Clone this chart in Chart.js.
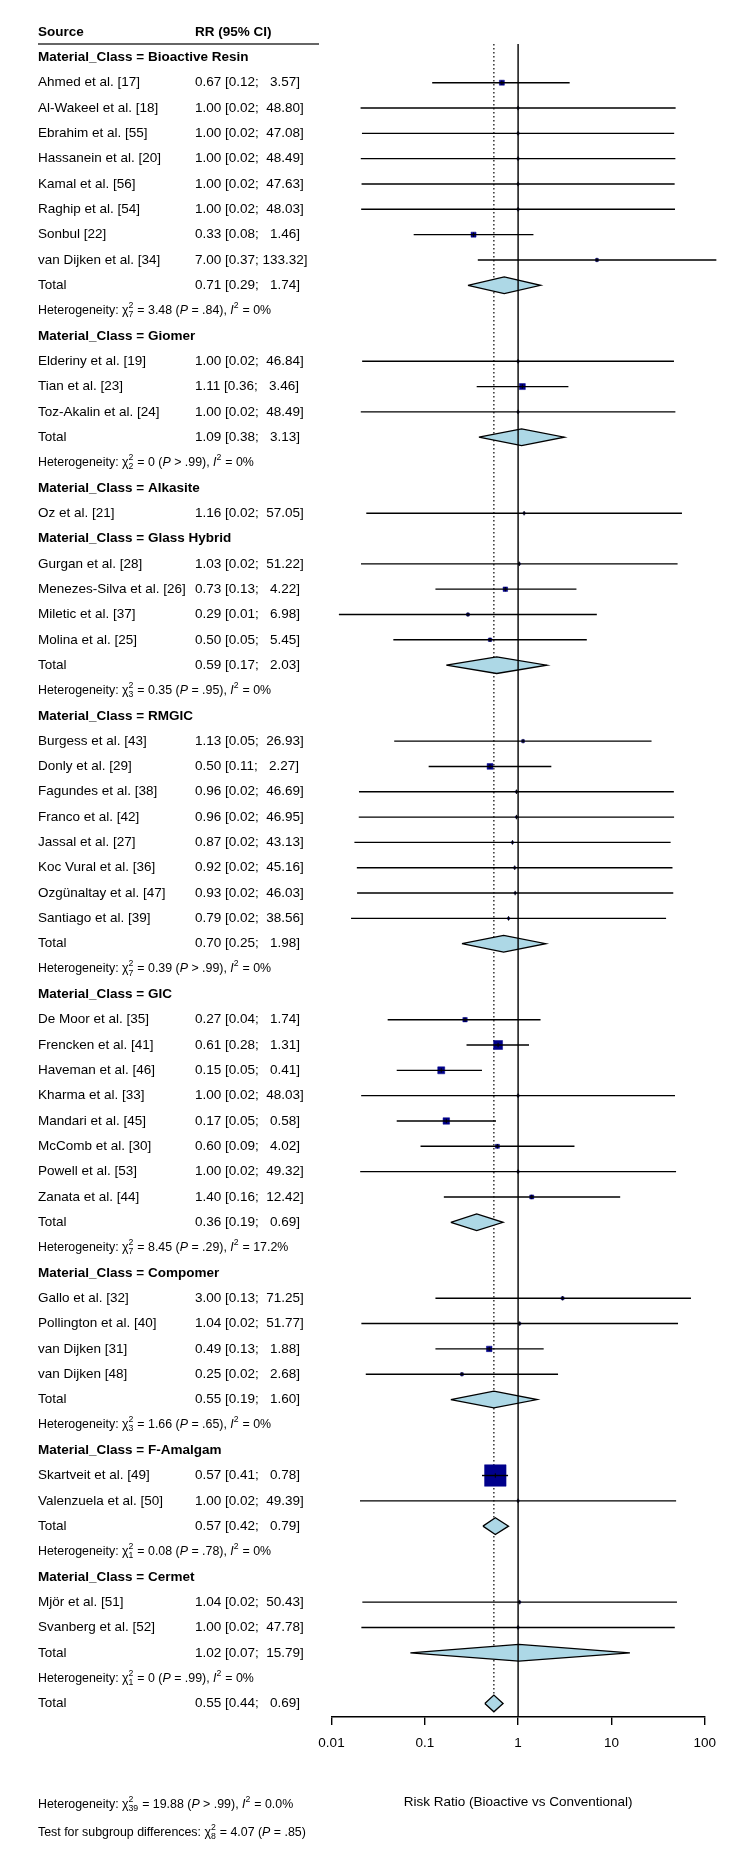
<!DOCTYPE html>
<html><head><meta charset="utf-8">
<script src="https://cdn.jsdelivr.net/npm/chart.js@4.4.1/dist/chart.umd.min.js"></script>
<style>html,body{margin:0;padding:0;background:#fff;}canvas{display:block;}</style>
</head><body>
<canvas id="c" width="750" height="1871" style="width:750px;height:1871px"></canvas>
<script>
// ---------------- DATA ----------------
const groupNames = ["Bioactive Resin","Giomer","Alkasite","Glass Hybrid","RMGIC","GIC","Compomer","F-Amalgam","Cermet"];
const studyNames = [
  "Ahmed et al. [17]","Al-Wakeel et al. [18]","Ebrahim et al. [55]","Hassanein et al. [20]","Kamal et al. [56]","Raghip et al. [54]","Sonbul [22]","van Dijken et al. [34]",
  "Elderiny et al. [19]","Tian et al. [23]","Toz-Akalin et al. [24]",
  "Oz et al. [21]",
  "Gurgan et al. [28]","Menezes-Silva et al. [26]","Miletic et al. [37]","Molina et al. [25]",
  "Burgess et al. [43]","Donly et al. [29]","Fagundes et al. [38]","Franco et al. [42]","Jassal et al. [27]","Koc Vural et al. [36]","Ozgünaltay et al. [47]","Santiago et al. [39]",
  "De Moor et al. [35]","Frencken et al. [41]","Haveman et al. [46]","Kharma et al. [33]","Mandari et al. [45]","McComb et al. [30]","Powell et al. [53]","Zanata et al. [44]",
  "Gallo et al. [32]","Pollington et al. [40]","van Dijken [31]","van Dijken [48]",
  "Skartveit et al. [49]","Valenzuela et al. [50]",
  "Mjör et al. [51]","Svanberg et al. [52]"
];
const studyGroup = [0,0,0,0,0,0,0,0, 1,1,1, 2, 3,3,3,3, 4,4,4,4,4,4,4,4, 5,5,5,5,5,5,5,5, 6,6,6,6, 7,7, 8,8];
const studyRR = [0.67,1.00,1.00,1.00,1.00,1.00,0.333,7.00, 1.00,1.11,1.00, 1.16, 1.03,0.73,0.29,0.50, 1.13,0.50,0.96,0.96,0.87,0.92,0.93,0.79, 0.27,0.61,0.15,1.00,0.17,0.60,1.00,1.40, 3.00,1.04,0.49,0.25, 0.57,1.00, 1.04,1.00];
const studyLower = [0.12,0.0205,0.0212,0.0206,0.0210,0.0208,0.076,0.37, 0.0213,0.36,0.0206, 0.0236, 0.0207,0.13,0.012,0.046, 0.047,0.11,0.0197,0.0196,0.0176,0.0187,0.0188,0.0162, 0.04,0.28,0.05,0.0208,0.05,0.09,0.0203,0.16, 0.13,0.0209,0.13,0.0233, 0.41,0.0202, 0.0214,0.0209];
const studyUpper = [3.57,48.80,47.08,48.49,47.63,48.03,1.46,133.32, 46.84,3.46,48.49, 57.05, 51.22,4.22,6.98,5.45, 26.93,2.27,46.69,46.95,43.13,45.16,46.03,38.56, 1.74,1.31,0.41,48.03,0.58,4.02,49.32,12.42, 71.25,51.77,1.88,2.68, 0.78,49.39, 50.43,47.78];
const studyWeight = [3.0,0.5,0.5,0.5,0.5,0.5,3.0,1.0, 0.5,4.3,0.5, 0.5, 0.5,2.4,1.0,1.4, 1.0,4.0,0.5,0.5,0.5,0.5,0.5,0.5, 2.3,9.6,5.8,0.5,5.0,1.9,0.5,1.9, 1.0,0.6,3.6,1.0, 55,0.5, 0.5,0.5];
const groupRR    = [0.71,1.09,null,0.59,0.70,0.36,0.55,0.57,1.02];
const groupLower = [0.29,0.38,null,0.17,0.25,0.19,0.19,0.42,0.07];
const groupUpper = [1.74,3.13,null,2.03,1.98,0.69,1.60,0.79,15.79];
const groupHetDf = ["7","2",null,"3","7","7","3","1","1"];
const groupHetQ  = ["3.48","0",null,"0.35","0.39","8.45","1.66","0.08","0"];
const groupHetP  = ["= .84","> .99",null,"= .95","> .99","= .29","= .65","= .78","= .99"];
const groupHetI2 = ["0%","0%",null,"0%","0%","17.2%","0%","0%","0%"];
const overallRR = 0.55, overallLower = 0.44, overallUpper = 0.69;
const overallHet = {df:"39", q:"19.88", p:"> .99", i2:"0.0%"};
const subgroupTest = {df:"8", q:"4.07", p:"= .85"};
const tickValues = [0.01,0.1,1,10,100];
const tickLabels = ["0.01","0.1","1","10","100"];
const axisTitle = "Risk Ratio (Bioactive vs Conventional)";

// ---------------- LAYOUT / ROWS ----------------
const rows = [];
let r = 0;
groupNames.forEach((g, gi) => {
  rows.push({type:'header', row:r++, gi});
  studyNames.forEach((s, si) => { if (studyGroup[si] === gi) rows.push({type:'study', row:r++, si}); });
  if (groupRR[gi] !== null) { rows.push({type:'total', row:r++, gi}); rows.push({type:'het', row:r++, gi}); }
});
const overallRow = r++;
const Y_MIN = -0.528, Y_MAX = Y_MIN + 1673.2/25.327;
const DH = 0.33;
const FONT = '"Liberation Sans", Arial, Helvetica, sans-serif';

function fmtCI(e, lo, hi) {
  return e.toFixed(2) + ' [' + lo.toFixed(2) + ';' + hi.toFixed(2).padStart(7, ' ') + ']';
}

const datasets = [];
// reference line at 1 (top)
datasets.push({type:'line', data:[{x:1,y:Y_MIN},{x:1,y:Y_MAX}], borderColor:'#000', borderWidth:1.4, pointRadius:0, order:0, clip:false});
// CI lines
rows.filter(o => o.type === 'study').forEach(o => {
  datasets.push({type:'line', data:[{x:studyLower[o.si],y:o.row},{x:studyUpper[o.si],y:o.row}],
    borderColor:'#000', borderWidth:1.4, pointRadius:0, order:1, clip:false});
});
// center ticks
datasets.push({type:'scatter', data: rows.filter(o => o.type==='study').map(o => ({x:studyRR[o.si], y:o.row})),
  pointStyle:'line', rotation:90, pointRadius:2.2, borderColor:'#000', borderWidth:1, order:1});
// diamonds
const diamonds = [];
rows.filter(o => o.type === 'total').forEach(o => diamonds.push([groupRR[o.gi], groupLower[o.gi], groupUpper[o.gi], o.row]));
diamonds.push([overallRR, overallLower, overallUpper, overallRow]);
diamonds.forEach(([e, lo, hi, rw]) => {
  datasets.push({type:'line', data:[{x:lo,y:rw},{x:e,y:rw-DH},{x:hi,y:rw},{x:e,y:rw+DH},{x:lo,y:rw}],
    borderColor:'#000', borderWidth:1.3, backgroundColor:'#ADD8E6', fill:'shape', tension:0, pointRadius:0, order:2, clip:false});
});
// squares
const studyRows = rows.filter(o => o.type==='study');
datasets.push({type:'scatter', data: studyRows.map(o => ({x:studyRR[o.si], y:o.row})),
  pointStyle:'rect', pointRadius: studyRows.map(o => 2.9*Math.sqrt(studyWeight[o.si])/1.4142),
  backgroundColor:'#00008B', borderColor:'#00008B', borderWidth:0.5, order:3});
// dotted overall line
datasets.push({type:'line', data:[{x:overallRR,y:Y_MIN},{x:overallRR,y:overallRow-DH}], borderColor:'#000', borderWidth:1.2,
  borderDash:[1.5,2.5], pointRadius:0, order:4, clip:false});

function rich(ctx, x, y, parts, size) {
  const base = size + 'px ' + FONT, ital = 'italic ' + size + 'px ' + FONT, small = (size*0.7).toFixed(1) + 'px ' + FONT;
  for (const p of parts) {
    if (p.sup !== undefined || p.sub !== undefined) {
      ctx.font = small;
      let w = 0;
      if (p.sup) { ctx.fillText(p.sup, x, y - size*0.4); w = Math.max(w, ctx.measureText(p.sup).width); }
      if (p.sub) { ctx.fillText(p.sub, x, y + size*0.33); w = Math.max(w, ctx.measureText(p.sub).width); }
      x += w + 0.5;
    } else {
      ctx.font = p.it ? ital : base;
      ctx.fillText(p.t, x, y);
      x += ctx.measureText(p.t).width;
    }
  }
}
function hetParts(df, q, p, i2) {
  return [{t:'Heterogeneity: '},{t:'χ'},{sup:'2',sub:df},{t:' = '+q+' ('},{t:'P',it:1},{t:' '+p+'), '},{t:'I',it:1},{sup:'2'},{t:' = '+i2}];
}

const textPlugin = {
  id: 'forestText',
  afterDraw(chart) {
    const ctx = chart.ctx, ys = chart.scales.y;
    const XN = 38, XC = 195, FS = 13.5, HS = 12.4;
    ctx.save();
    ctx.fillStyle = '#000'; ctx.textBaseline = 'middle'; ctx.textAlign = 'left';
    const normal = FS + 'px ' + FONT, bold = 'bold ' + FS + 'px ' + FONT;
    let y = ys.getPixelForValue(-1);
    ctx.font = bold; ctx.fillText('Source', XN, y); ctx.fillText('RR (95% CI)', XC, y);
    ctx.strokeStyle = '#333'; ctx.lineWidth = 1.5;
    ctx.beginPath(); ctx.moveTo(XN, chart.chartArea.top); ctx.lineTo(319, chart.chartArea.top); ctx.stroke();
    rows.forEach(o => {
      const yy = ys.getPixelForValue(o.row);
      if (o.type === 'header') { ctx.font = bold; ctx.fillText('Material_Class = ' + groupNames[o.gi], XN, yy); }
      else if (o.type === 'study') { ctx.font = normal; ctx.fillText(studyNames[o.si], XN, yy); ctx.fillText(fmtCI(studyRR[o.si], studyLower[o.si], studyUpper[o.si]), XC, yy); }
      else if (o.type === 'total') { ctx.font = normal; ctx.fillText('Total', XN, yy); ctx.fillText(fmtCI(groupRR[o.gi], groupLower[o.gi], groupUpper[o.gi]), XC, yy); }
      else if (o.type === 'het') { rich(ctx, XN, yy, hetParts(groupHetDf[o.gi], groupHetQ[o.gi], groupHetP[o.gi], groupHetI2[o.gi]), HS); }
    });
    y = ys.getPixelForValue(overallRow);
    ctx.font = normal; ctx.fillText('Total', XN, y); ctx.fillText(fmtCI(overallRR, overallLower, overallUpper), XC, y);
    rich(ctx, XN, ys.getPixelForValue(overallRow + 4), hetParts(overallHet.df, overallHet.q, overallHet.p, overallHet.i2), HS);
    rich(ctx, XN, ys.getPixelForValue(overallRow + 5.1),
      [{t:'Test for subgroup differences: '},{t:'χ'},{sup:'2',sub:subgroupTest.df},{t:' = '+subgroupTest.q+' ('},{t:'P',it:1},{t:' '+subgroupTest.p+')'}], HS);
    ctx.restore();
  }
};

Chart.defaults.font.family = FONT;
Chart.defaults.font.size = 13.5;
Chart.defaults.color = '#000';

new Chart(document.getElementById('c'), {
  type: 'scatter',
  data: { datasets },
  options: {
    responsive: false, animation: false, events: [],
    layout: { padding: { left: 331.5, right: 45.3, top: 44, bottom: 60.9 } },
    plugins: { legend: { display: false }, tooltip: { enabled: false } },
    scales: {
      x: {
        type: 'logarithmic', min: 0.01, max: 100, position: 'bottom',
        afterBuildTicks: axis => { axis.ticks = tickValues.map(v => ({ value: v })); },
        ticks: { autoSkip: false, maxRotation: 0, padding: 10, color: '#000', font: { size: 13.5 },
                 callback: (v, i) => tickLabels[i] },
        grid: { display: true, drawOnChartArea: false, drawTicks: true, tickLength: 8, color: '#000', lineWidth: 1.4 },
        border: { display: true, color: '#000', width: 1.4 },
        title: { display: true, text: axisTitle, color: '#000', font: { size: 13.5 }, padding: { top: 32.7, bottom: 0 } }
      },
      y: { type: 'linear', display: false, min: Y_MIN, max: Y_MAX, reverse: true }
    }
  },
  plugins: [textPlugin]
});
</script>
</body></html>
